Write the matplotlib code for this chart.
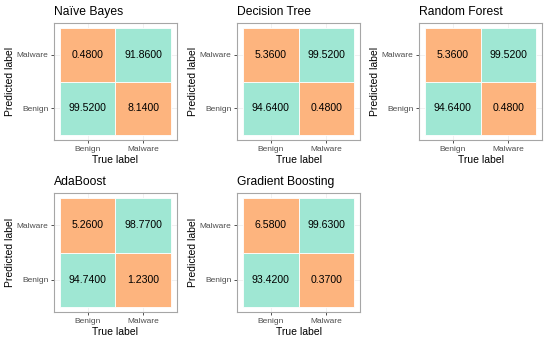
import matplotlib
matplotlib.use('Agg')
import matplotlib.pyplot as plt
from matplotlib.patches import Rectangle

plt.rcParams['font.family'] = ['Liberation Sans', 'DejaVu Sans']

# confusion matrices: [true][pred] -> value (%)
titles = ['Naïve Bayes', 'Decision Tree', 'Random Forest', 'AdaBoost', 'Gradient Boosting']
labels = ['Benign', 'Malware']
# cells as (true, pred)
bb = [99.52, 94.64, 94.64, 94.74, 93.42]
bm = [0.48, 5.36, 5.36, 5.26, 6.58]
mb = [8.14, 0.48, 0.48, 1.23, 0.37]
mm = [91.86, 99.52, 99.52, 98.77, 99.63]

orange = '#FDB47E'
green = '#9FE7D3'

fig = plt.figure(figsize=(5.5, 3.4), dpi=100)

# axes boxes in pixels: left, top, right, bottom
boxes = [(54, 23, 177, 140), (237, 23, 360, 140), (419, 23, 542, 140),
         (54, 193, 177, 312), (237, 193, 360, 312)]

for i, (l, t, r, b) in enumerate(boxes):
    ax = fig.add_axes([l / 550, 1 - b / 340, (r - l) / 550, (b - t) / 340])
    cells = [(0, 0, bb[i]), (0, 1, bm[i]), (1, 0, mb[i]), (1, 1, mm[i])]
    for x, y, v in cells:
        col = green if v > 50 else orange
        ax.add_patch(Rectangle((x - 0.5, y - 0.5), 1, 1, facecolor=col,
                               edgecolor='white', linewidth=0.6, zorder=2))
        ax.text(x, y, '%.4f' % v, ha='center', va='center', fontsize=7.6,
                color='black', zorder=3)
    ax.set_xlim(-0.6, 1.6)
    ax.set_ylim(-0.6, 1.6)
    ax.set_xticks([0, 1])
    ax.set_yticks([0, 1])
    ax.set_xticklabels(labels, fontsize=6, color='#4D4D4D')
    ax.set_yticklabels(labels, fontsize=6, color='#4D4D4D')
    ax.tick_params(length=2, width=0.6, color='#333333', pad=2)
    ax.grid(True, color='#EBEBEB', linewidth=0.5, zorder=0)
    ax.set_axisbelow(True)
    for s in ax.spines.values():
        s.set_color('#A6A6A6')
        s.set_linewidth(0.8)
    ax.set_xlabel('True label', fontsize=7.5, labelpad=1.5)
    ax.set_ylabel('Predicted label', fontsize=7.5, labelpad=1.5)
    ax.set_title(titles[i], loc='left', fontsize=8.7, pad=6)

fig.savefig('out.png', dpi=100)
